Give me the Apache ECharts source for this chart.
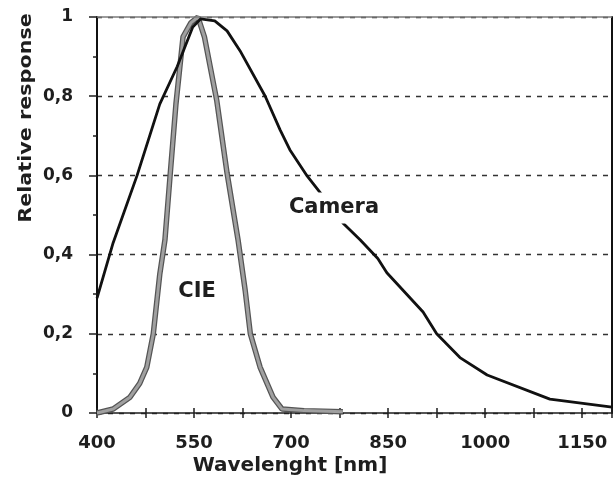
<!DOCTYPE html>
<html>
<head>
<meta charset="utf-8">
<script src="https://cdn.jsdelivr.net/npm/echarts@6/dist/echarts.min.js"></script>
<style>
  html, body { margin: 0; padding: 0; background: #ffffff; }
  #chart { width: 615px; height: 483px; }
</style>
</head>
<body>
<div id="chart"></div>
<script>
// ---- data ----
var cameraWavelength = [400, 425, 462, 497, 524, 548, 560, 582, 601, 621, 660, 683, 698, 725, 748, 780, 807, 834, 848, 904, 925, 961, 1003, 1100, 1196];
var cameraResponse   = [0.29, 0.43, 0.60, 0.78, 0.875, 0.975, 0.995, 0.99, 0.965, 0.915, 0.80, 0.715, 0.665, 0.598, 0.55, 0.48, 0.437, 0.39, 0.354, 0.255, 0.20, 0.14, 0.096, 0.035, 0.015];

var cieWavelength = [400, 425, 451, 466, 477, 487, 497, 505, 513, 522, 533, 545, 556, 566, 585, 601, 618, 629, 637, 652, 672, 686, 720, 780];
var cieResponse   = [0.0, 0.01, 0.04, 0.075, 0.116, 0.20, 0.35, 0.437, 0.60, 0.78, 0.95, 0.985, 1.0, 0.95, 0.79, 0.606, 0.437, 0.31, 0.20, 0.116, 0.04, 0.01, 0.006, 0.003];

var xMin = 400, xMax = 1196, xStep = 75, xLabelStep = 150, xLastLabel = 1150;
var yMin = 0, yMax = 1, yStep = 0.2;

var xAxisName = 'Wavelenght [nm]';
var yAxisName = 'Relative response';
var cameraName = 'Camera';
var cieName = 'CIE';

function zip(xs, ys) { return xs.map(function (x, i) { return [x, ys[i]]; }); }

var FONT = '"DejaVu Sans", Verdana, sans-serif';
var INK = '#1e1e1e';

var chart = echarts.init(document.getElementById('chart'), null, { renderer: 'canvas' });

chart.setOption({
  backgroundColor: '#ffffff',
  animation: false,
  grid: { left: 97, right: 3, top: 17, bottom: 70, containLabel: false },
  xAxis: [
    {
      type: 'value', min: xMin, max: xMax, interval: xStep, position: 'bottom',
      axisLine: { lineStyle: { color: INK, width: 1.5 } },
      axisTick: { show: true, length: 5, lineStyle: { color: INK, width: 1.5 } },
      axisLabel: {
        margin: 21, color: INK, fontFamily: FONT, fontWeight: 'bold', fontSize: 18,
        showMaxLabel: true,
        formatter: function (v) {
          if (v > xLastLabel) return '';
          return ((v - xMin) % xLabelStep === 0) ? String(v) : '';
        }
      },
      splitLine: { show: false }
    },
    {
      type: 'value', min: xMin, max: xMax, interval: xStep, position: 'top', offset: -396,
      axisLine: { show: false },
      axisTick: { show: true, length: 5, lineStyle: { color: INK, width: 1.5 } },
      axisLabel: { show: false },
      splitLine: { show: false }
    }
  ],
  yAxis: [
    {
      type: 'value', min: yMin, max: yMax, interval: yStep,
      axisLine: { show: true, lineStyle: { color: '#111', width: 2 } },
      axisTick: { show: true, length: 8, lineStyle: { color: INK, width: 1.5 } },
      minorTick: { show: true, splitNumber: 2, length: 4, lineStyle: { color: INK, width: 1.5 } },
      axisLabel: {
        margin: 24, color: INK, fontFamily: FONT, fontWeight: 'bold', fontSize: 17,
        formatter: function (v) { return String(+v.toFixed(1)).replace('.', ','); }
      },
      splitLine: { show: true, lineStyle: { color: '#333', width: 1.3, type: [5, 6] } }
    },
    {
      type: 'value', min: yMin, max: yMax, position: 'right',
      axisLine: { show: true, lineStyle: { color: '#111', width: 2 } },
      axisTick: { show: false }, axisLabel: { show: false }, splitLine: { show: false }
    }
  ],
  series: [
    {
      name: cieName + ' outline', type: 'line', data: zip(cieWavelength, cieResponse),
      showSymbol: false, symbol: 'none', smooth: false, silent: true, z: 3,
      lineStyle: { color: '#555', width: 5.5 }
    },
    {
      name: cieName, type: 'line', data: zip(cieWavelength, cieResponse),
      showSymbol: false, symbol: 'none', smooth: false, silent: true, z: 4,
      lineStyle: { color: '#a0a0a0', width: 3 }
    },
    {
      name: cameraName, type: 'line', data: zip(cameraWavelength, cameraResponse),
      showSymbol: false, symbol: 'none', smooth: false, silent: true, z: 5,
      lineStyle: { color: '#111', width: 2.8 },
      markLine: {
        silent: true, symbol: 'none', label: { show: false },
        lineStyle: { color: '#7a7a7a', width: 1.5, type: 'solid' },
        data: [{ yAxis: yMax }]
      }
    }
  ],
  graphic: [
    {
      type: 'text', x: 26, y: 118, rotation: Math.PI / 2, scaleX: 1.15,
      style: { text: yAxisName, font: 'bold 18px ' + FONT, fill: INK, align: 'center', verticalAlign: 'middle' }
    },
    {
      type: 'text', x: 290, y: 466,
      style: { text: xAxisName, font: 'bold 20px ' + FONT, fill: INK, align: 'center', verticalAlign: 'middle' }
    },
    {
      type: 'text', x: 334, y: 208, z: 100,
      style: { text: cameraName, font: 'bold 21px ' + FONT, fill: INK, align: 'center', verticalAlign: 'middle',
               backgroundColor: '#ffffff', padding: [5, 3] }
    },
    {
      type: 'text', x: 197, y: 292, z: 100,
      style: { text: cieName, font: 'bold 21px ' + FONT, fill: INK, align: 'center', verticalAlign: 'middle' }
    }
  ]
});
</script>
</body>
</html>
